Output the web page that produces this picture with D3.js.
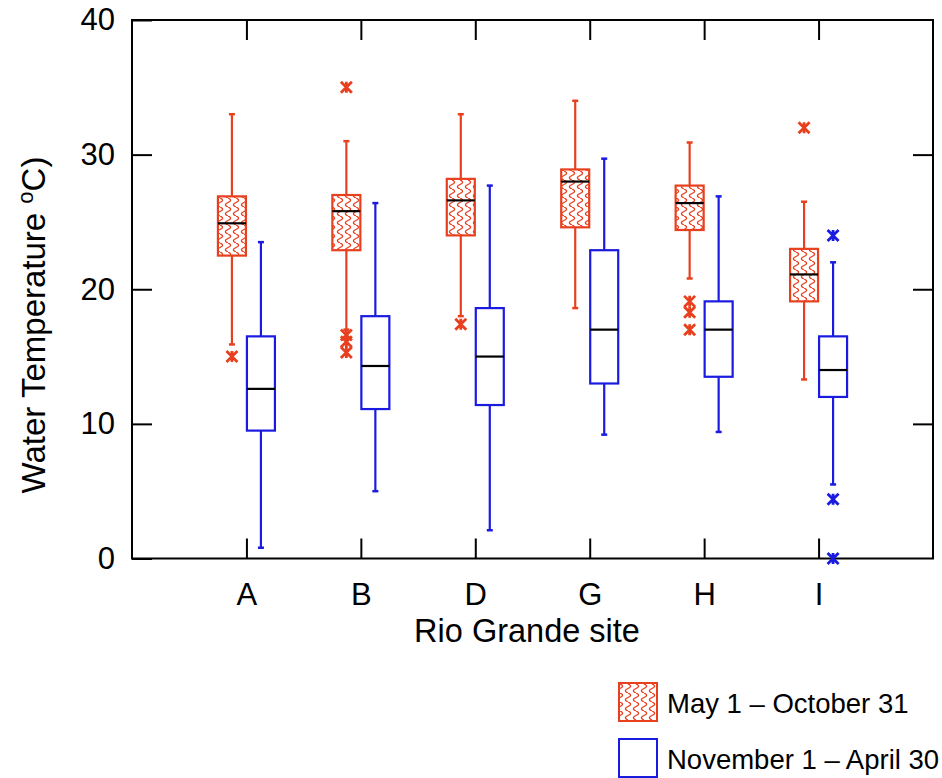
<!DOCTYPE html>
<html>
<head>
<meta charset="utf-8">
<script src="https://cdn.jsdelivr.net/npm/d3@7"></script>
<style>
  html, body { margin: 0; padding: 0; background: #fff; }
  svg { display: block; font-family: "Liberation Sans", Arial, Helvetica, sans-serif; }
</style>
</head>
<body>
<svg id="chart" width="942" height="778"></svg>
<script>
// ---------- data ----------
const categories = ["A", "B", "D", "G", "H", "I"];
const yTicks = [0, 10, 20, 30, 40];

// May 1 – October 31
const summerLow    = [15.9, 17.0, 18.0, 18.6, 20.8, 13.3];
const summerQ1     = [22.5, 22.9, 24.0, 24.6, 24.4, 19.1];
const summerMedian = [24.9, 25.8, 26.6, 28.0, 26.4, 21.1];
const summerQ3     = [26.9, 27.0, 28.2, 28.9, 27.7, 23.0];
const summerHigh   = [33.0, 31.0, 33.0, 34.0, 30.9, 26.5];
const summerOutliers = [[15.0], [35.0, 16.6, 16.1, 15.3], [17.4], [], [19.1, 18.3, 17.0], [32.0]];

// November 1 – April 30
const winterLow    = [0.8, 5.0, 2.1, 9.2, 9.4, 5.5];
const winterQ1     = [9.5, 11.1, 11.4, 13.0, 13.5, 12.0];
const winterMedian = [12.6, 14.3, 15.0, 17.0, 17.0, 14.0];
const winterQ3     = [16.5, 18.0, 18.6, 22.9, 19.1, 16.5];
const winterHigh   = [23.5, 26.4, 27.7, 29.7, 26.9, 22.0];
const winterOutliers = [[], [], [], [], [], [24.0, 4.4, 0.0]];

const seriesNames = ["May 1 \u2013 October 31", "November 1 \u2013 April 30"];

// ---------- layout ----------
const RED = "#e8401f", BLUE = "#1a1ae0";
const svg = d3.select("#chart");
const mLeft = 132, mRight = 933, mTop = 20, mBottom = 558.5;

const x = d3.scalePoint().domain(categories).range([mLeft, mRight]).padding(1);
const y = d3.scaleLinear().domain([0, 40]).range([mBottom, mTop]);

const defs = svg.append("defs");
const pat = defs.append("pattern").attr("id", "wave")
  .attr("patternUnits", "userSpaceOnUse").attr("width", 8).attr("height", 9);
pat.append("rect").attr("width", 8).attr("height", 9).attr("fill", "#fff");
pat.append("path")
  .attr("d", "M4,0 C7.5,1.5 7.5,3 4,4.5 C0.5,6 0.5,7.5 4,9")
  .attr("fill", "none").attr("stroke", RED).attr("stroke-width", 1.3);

// ---------- frame & axes ----------
const tickLen = 20;
svg.append("g").attr("transform", `translate(${mLeft},0)`)
  .call(d3.axisLeft(y).tickValues(yTicks).tickSize(-tickLen).tickPadding(17))
  .call(g => g.select(".domain").remove())
  .call(g => g.selectAll("line").attr("stroke", "#000").attr("stroke-width", 2))
  .call(g => g.selectAll("text").attr("font-size", 31).attr("fill", "#000").attr("font-family", "Liberation Sans, Arial, sans-serif"));

svg.append("g").attr("transform", `translate(${mRight},0)`)
  .call(d3.axisRight(y).tickValues(yTicks.slice(1, -1)).tickSize(-tickLen).tickFormat(""))
  .call(g => g.select(".domain").remove())
  .call(g => g.selectAll("line").attr("stroke", "#000").attr("stroke-width", 2));

svg.append("g").attr("transform", `translate(0,${mBottom})`)
  .call(d3.axisBottom(x).tickSize(-tickLen).tickPadding(24))
  .call(g => g.select(".domain").remove())
  .call(g => g.selectAll("line").attr("stroke", "#000").attr("stroke-width", 2))
  .call(g => g.selectAll("text").attr("font-size", 31).attr("fill", "#000").attr("font-family", "Liberation Sans, Arial, sans-serif"));

svg.append("g").attr("transform", `translate(0,${mTop})`)
  .call(d3.axisTop(x).tickSize(-tickLen).tickFormat(""))
  .call(g => g.select(".domain").remove())
  .call(g => g.selectAll("line").attr("stroke", "#000").attr("stroke-width", 2));

svg.append("rect").attr("x", mLeft).attr("y", mTop)
  .attr("width", mRight - mLeft).attr("height", mBottom - mTop)
  .attr("fill", "none").attr("stroke", "#000").attr("stroke-width", 2);

// ---------- boxes ----------
const boxW = 28, off = 14.5, capW = 6;

function asterisk(g, cx, cy, color) {
  const s = 5.5;
  g.append("path")
    .attr("d", `M${cx - s},${cy - s}L${cx + s},${cy + s}M${cx - s},${cy + s}L${cx + s},${cy - s}M${cx},${cy - s}L${cx},${cy + s}`)
    .attr("stroke", color).attr("stroke-width", 2.8).attr("fill", "none");
}

function drawSeries(low, q1, med, q3, high, outl, dx, color, fill) {
  const g = svg.append("g");
  categories.forEach((c, i) => {
    const cx = x(c) + dx;
    g.append("line").attr("x1", cx).attr("x2", cx).attr("y1", y(high[i])).attr("y2", y(q3[i]))
      .attr("stroke", color).attr("stroke-width", 2.2);
    g.append("line").attr("x1", cx).attr("x2", cx).attr("y1", y(q1[i])).attr("y2", y(low[i]))
      .attr("stroke", color).attr("stroke-width", 2.2);
    [high[i], low[i]].forEach(v => {
      g.append("line").attr("x1", cx - capW / 2).attr("x2", cx + capW / 2).attr("y1", y(v)).attr("y2", y(v))
        .attr("stroke", color).attr("stroke-width", 2.5);
    });
    g.append("rect").attr("x", cx - boxW / 2).attr("y", y(q3[i]))
      .attr("width", boxW).attr("height", y(q1[i]) - y(q3[i]))
      .attr("fill", fill).attr("stroke", color).attr("stroke-width", 2.2);
    g.append("line").attr("x1", cx - boxW / 2).attr("x2", cx + boxW / 2)
      .attr("y1", y(med[i])).attr("y2", y(med[i]))
      .attr("stroke", "#000").attr("stroke-width", 2.2);
    outl[i].forEach(v => asterisk(g, cx, y(v), color));
  });
}

drawSeries(summerLow, summerQ1, summerMedian, summerQ3, summerHigh, summerOutliers, -off, RED, "url(#wave)");
drawSeries(winterLow, winterQ1, winterMedian, winterQ3, winterHigh, winterOutliers, off, BLUE, "#fff");

// ---------- titles ----------
svg.append("text").attr("x", 527).attr("y", 642)
  .attr("text-anchor", "middle").attr("font-size", 32.5).attr("fill", "#000")
  .text("Rio Grande site");

const yt = svg.append("text")
  .attr("transform", `translate(45,${325}) rotate(-90)`)
  .attr("text-anchor", "middle").attr("font-size", 33).attr("fill", "#000");
yt.append("tspan").text("Water Temperature ");
yt.append("tspan").attr("font-size", 22).attr("dy", -12).text("o");
yt.append("tspan").attr("dy", 12).text("C)");

// ---------- legend ----------
const legend = svg.append("g");
const legFills = ["url(#wave)", "#fff"];
const legColors = [RED, BLUE];
seriesNames.forEach((name, i) => {
  const yy = 683 + i * 56;
  legend.append("rect").attr("x", 619).attr("y", yy).attr("width", 38).attr("height", 38)
    .attr("fill", legFills[i]).attr("stroke", legColors[i]).attr("stroke-width", 2);
  legend.append("text").attr("x", 667).attr("y", yy + 30)
    .attr("font-size", 27.5).attr("fill", "#000").text(name);
});
</script>
</body>
</html>
